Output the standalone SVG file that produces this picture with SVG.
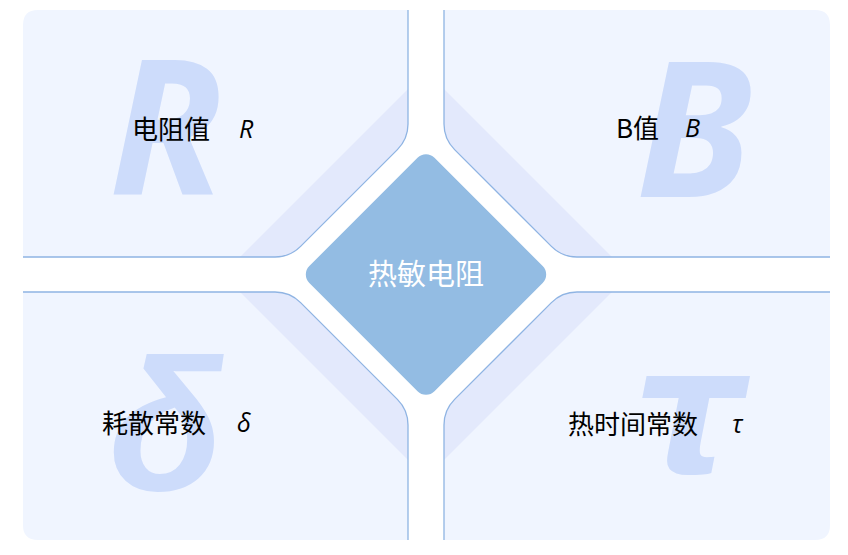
<svg xmlns="http://www.w3.org/2000/svg" width="848" height="555" viewBox="0 0 848 555">
<defs>
<style>
.q{fill:#f0f5ff;stroke:none}
.band{fill:#e3e9fc;stroke:none}
.edge{fill:none;stroke:#8fb4e3;stroke-width:1.3}
.wm{font-family:"Open Sans","Noto Sans",sans-serif;font-weight:bold;font-style:italic;font-size:188px;fill:#cddcfb;text-anchor:middle}
.wl{font-family:"Liberation Sans",Arial,sans-serif;font-weight:bold;font-style:italic;font-size:188px;fill:#cddcfb;text-anchor:middle}
.wg{font-family:"DejaVu Sans",sans-serif;font-weight:bold;font-style:italic;font-size:175px;fill:#cddcfb;text-anchor:middle}
.lbl{font-family:"Noto Sans CJK SC","Noto Sans",sans-serif;font-size:26px;fill:#000}
.sym{font-family:"Open Sans","Noto Sans",sans-serif;font-style:italic;font-size:25px;fill:#000}
.ctr{font-family:"Noto Sans CJK SC","Noto Sans",sans-serif;font-size:29px;fill:#ffffff;text-anchor:middle}
</style>
</defs>
<rect width="848" height="555" fill="#ffffff"/>

<g id="q-tl">
<path class="q" d="M38,10 L408,10 L408,124 Q408,139 397.4,149.6 L300.6,246.4 Q290,257 275,257 L23,257 L23,25 Q23,10 38,10 Z"/>
<path class="band" d="M408,89 L408,124 Q408,139 397.4,149.6 L300.6,246.4 Q290,257 275,257 L240,257 Z"/>
<path class="edge" d="M408,10 L408,124 Q408,139 397.4,149.6 L300.6,246.4 Q290,257 275,257 L23,257"/>
<text class="wm" x="166" y="195">R</text>
<text class="lbl" x="132" y="139">电阻值</text>
<text class="sym" x="239" y="138">R</text>
</g>

<g id="q-tr">
<path class="q" d="M814,10 L444,10 L444,124 Q444,139 454.6,149.6 L551.4,246.4 Q562,257 577,257 L830,257 L830,25 Q830,10 815,10 Z"/>
<path class="band" d="M444,89 L444,124 Q444,139 454.6,149.6 L551.4,246.4 Q562,257 577,257 L612,257 Z"/>
<path class="edge" d="M444,10 L444,124 Q444,139 454.6,149.6 L551.4,246.4 Q562,257 577,257 L830,257"/>
<text class="wm" x="694" y="197">B</text>
<text class="lbl" x="616" y="138">B值</text>
<text class="sym" x="685" y="137">B</text>
</g>

<g id="q-bl">
<path class="q" d="M38,540 L408,540 L408,425 Q408,410 397.4,399.4 L300.6,302.6 Q290,292 275,292 L23,292 L23,525 Q23,540 38,540 Z"/>
<path class="band" d="M408,460 L408,425 Q408,410 397.4,399.4 L300.6,302.6 Q290,292 275,292 L240,292 Z"/>
<path class="edge" d="M408,540 L408,425 Q408,410 397.4,399.4 L300.6,302.6 Q290,292 275,292 L23,292"/>
<text class="wl" x="166" y="490">δ</text>
<text class="lbl" x="102" y="433">耗散常数</text>
<text class="sym" x="237" y="432">δ</text>
</g>

<g id="q-br">
<path class="q" d="M815,540 L444,540 L444,425 Q444,410 454.6,399.4 L551.4,302.6 Q562,292 577,292 L830,292 L830,525 Q830,540 815,540 Z"/>
<path class="band" d="M444,460 L444,425 Q444,410 454.6,399.4 L551.4,302.6 Q562,292 577,292 L612,292 Z"/>
<path class="edge" d="M444,540 L444,425 Q444,410 454.6,399.4 L551.4,302.6 Q562,292 577,292 L830,292"/>
<text class="wg" x="689" y="472">τ</text>
<text class="lbl" x="568" y="434">热时间常数</text>
<text class="sym" x="732" y="433">τ</text>
</g>

<g id="center">
<rect x="-88.5" y="-88.5" width="177" height="177" rx="12" fill="#93bce3" transform="translate(426,274.5) rotate(45)"/>
<text class="ctr" x="426" y="285">热敏电阻</text>
</g>
</svg>
